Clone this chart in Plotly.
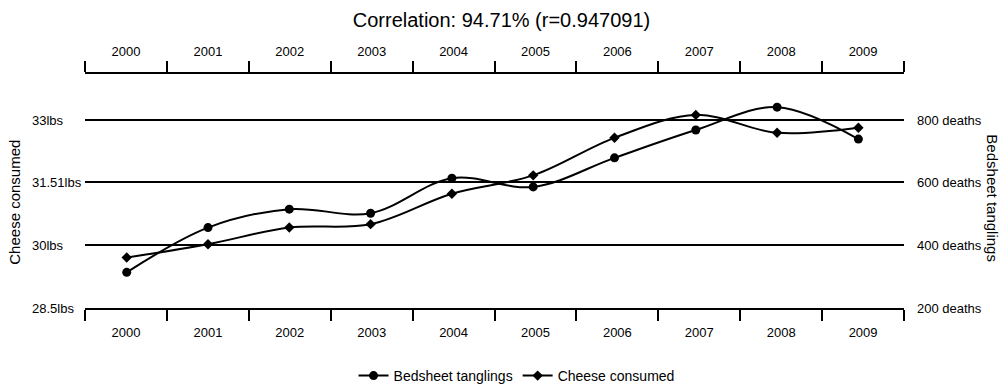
import plotly.graph_objects as go

years = [2000, 2001, 2002, 2003, 2004, 2005, 2006, 2007, 2008, 2009]
bedsheet_deaths = [314, 457, 516, 503, 615, 587, 680, 769, 842, 740]
cheese_lbs = [29.71, 30.03, 30.43, 30.51, 31.24, 31.68, 32.58, 33.13, 32.70, 32.82]

left_tick_vals = [28.5, 30, 31.51, 33]
left_tick_text = ["28.5lbs", "30lbs", "31.51lbs", "33lbs"]
right_tick_vals = [200, 400, 600, 800]
right_tick_text = ["200 deaths", "400 deaths", "600 deaths", "800 deaths"]

title_text = "Correlation: 94.71% (r=0.947091)"
FONT = "Liberation Sans, Arial, sans-serif"

year_dates = [f"{y}-07-01" for y in years]

fig = go.Figure()

# invisible helpers so the two year axes (top and bottom) are laid out
for xa in ("x", "x2"):
    fig.add_trace(go.Scatter(
        x=year_dates, y=cheese_lbs, xaxis=xa, yaxis="y", mode="markers",
        marker=dict(opacity=0, size=1), hoverinfo="skip", showlegend=False,
    ))

fig.add_trace(go.Scatter(
    x=years, y=bedsheet_deaths, name="Bedsheet tanglings",
    xaxis="x3", yaxis="y2", mode="lines+markers",
    line=dict(color="black", width=2, shape="spline", smoothing=1),
    marker=dict(symbol="circle", size=9, color="black"),
))
fig.add_trace(go.Scatter(
    x=years, y=cheese_lbs, name="Cheese consumed",
    xaxis="x3", yaxis="y", mode="lines+markers",
    line=dict(color="black", width=2, shape="spline", smoothing=1),
    marker=dict(symbol="diamond", size=8, color="black"),
))

axis_common = dict(
    type="date", range=["2000-01-01", "2010-01-01"], autorange=False,
    dtick="M12", tick0="2000-01-01", ticklabelmode="period", tickformat="%Y",
    ticks="outside", ticklen=11, tickwidth=2, tickcolor="black",
    showline=True, linewidth=2, linecolor="black", showgrid=False, zeroline=False,
    tickfont=dict(family=FONT, size=13, color="black"),
    fixedrange=True,
)

fig.update_layout(
    width=1003, height=386,
    margin=dict(l=85, r=99, t=74, b=78),
    paper_bgcolor="white", plot_bgcolor="white",
    font=dict(family=FONT, color="black"),
    title=dict(text=title_text, x=0.5, xanchor="center", xref="container",
               y=1 - 20 / 386, yanchor="middle", yref="container",
               font=dict(family=FONT, size=20, color="black")),
    xaxis=dict(side="bottom", anchor="y", **axis_common),
    xaxis2=dict(side="top", anchor="y", overlaying="x", **axis_common),
    xaxis3=dict(range=[1999.487, 2009.561], autorange=False, visible=False,
                overlaying="x", anchor="y", showgrid=False, zeroline=False),
    yaxis=dict(range=[28.5, 34.11], autorange=False, tickvals=left_tick_vals[1:],
               showticklabels=False, ticks="", showgrid=True, gridcolor="black",
               gridwidth=2, zeroline=False, showline=False, fixedrange=True),
    yaxis2=dict(range=[200, 948], autorange=False, overlaying="y", side="right",
                anchor="x", tickvals=right_tick_vals, ticktext=right_tick_text,
                ticks="", showgrid=False, zeroline=False, showline=False,
                ticklabelstandoff=12, fixedrange=True,
                tickfont=dict(family=FONT, size=13, color="black")),
    legend=dict(orientation="h", xref="container", yref="container",
                x=0.515, xanchor="center", y=1 - 376 / 386, yanchor="middle",
                font=dict(family=FONT, size=14, color="black"),
                bgcolor="rgba(0,0,0,0)"),
    showlegend=True,
)

for v, t in zip(left_tick_vals, left_tick_text):
    fig.add_annotation(x=(30 - 85) / 819.3, xref="paper", xanchor="left",
                       y=v, yref="y", yanchor="middle", text=t, showarrow=False,
                       font=dict(family=FONT, size=13, color="black"))

fig.add_annotation(x=(15 - 85) / 819.3, xref="paper", xanchor="center",
                   y=0.45, yref="paper", yanchor="middle", text="Cheese consumed",
                   textangle=-90, showarrow=False,
                   font=dict(family=FONT, size=15, color="black"))
fig.add_annotation(x=(993 - 85) / 819.3, xref="paper", xanchor="center",
                   y=0.47, yref="paper", yanchor="middle", text="Bedsheet tanglings",
                   textangle=90, showarrow=False,
                   font=dict(family=FONT, size=15, color="black"))

fig.write_html("out.html", config={"displayModeBar": False},
               post_script="document.body.style.margin='0';")
